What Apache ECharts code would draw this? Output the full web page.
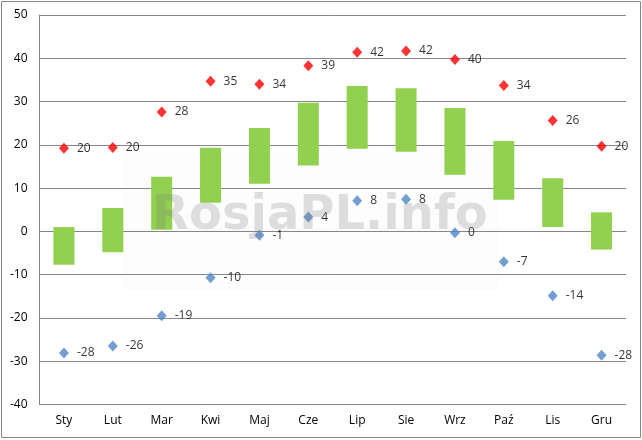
<!DOCTYPE html>
<html><head><meta charset="utf-8">
<script src="https://cdn.jsdelivr.net/npm/echarts@6/dist/echarts.min.js"></script>
<style>html,body{margin:0;padding:0;background:#fff}#c{width:642px;height:440px}</style>
</head><body><div id="c"></div>
<script>
const categories = ['Sty','Lut','Mar','Kwi','Maj','Cze','Lip','Sie','Wrz','Paź','Lis','Gru'];
const rangeLow  = [-7.7,-4.8,0.4,6.6,11.0,15.2,19.1,18.4,13.1,7.3,1.0,-4.2];
const rangeHigh = [1.0,5.4,12.6,19.3,23.9,29.7,33.6,33.1,28.5,20.9,12.3,4.4];
const maxValues = [19.2,19.4,27.6,34.7,34.0,38.3,41.4,41.7,39.7,33.7,25.6,19.7];
const maxLabels = [20,20,28,35,34,39,42,42,40,34,26,20];
const minValues = [-28.1,-26.5,-19.5,-10.7,-0.9,3.3,7.1,7.4,-0.3,-7.0,-14.9,-28.6];
const minLabels = [-28,-26,-19,-10,-1,4,8,8,0,-7,-14,-28];
const yTicks = [-40,-30,-20,-10,0,10,20,30,40,50];

const chart = echarts.init(document.getElementById('c'), null, {renderer:'canvas'});
const font = '"Open Sans", "Noto Sans", sans-serif';
chart.setOption({
  animation:false,
  backgroundColor:'#fff',
  grid:{left:39.5,right:16,top:15,bottom:35.5,containLabel:false},
  xAxis:{type:'category',data:categories,
    axisLine:{lineStyle:{color:'#868686'}},axisTick:{show:false},
    axisLabel:{color:'#000',fontFamily:font,fontSize:12,margin:10}},
  yAxis:{type:'value',min:yTicks[0],max:yTicks[yTicks.length-1],interval:10,
    axisLine:{show:true,lineStyle:{color:'#868686'}},axisTick:{show:false},
    splitLine:{lineStyle:{color:'#868686'}},
    axisLabel:{color:'#000',fontFamily:font,fontSize:12,margin:12}},
  graphic:[
    {type:'rect',shape:{x:1.5,y:1.5,width:639,height:436},style:{fill:'none',stroke:'#868686',lineWidth:1},z:0,silent:true},
    {type:'rect',shape:{x:122,y:145,width:378,height:145},style:{fill:'rgba(0,0,0,0.008)'},z:-1,silent:true},
    {type:'text',x:152,y:241,style:{text:'RosjaPL.info',font:'bold 48px "DejaVu Sans", sans-serif',fill:'rgba(120,120,120,0.24)',textVerticalAlign:'bottom',verticalAlign:'bottom'},z:100,silent:true}
  ],
  series:[
    {type:'custom',data:categories.map((c,i)=>[i,rangeLow[i],rangeHigh[i]]),
     encode:{x:0,y:[1,2]},
     renderItem:function(params,api){
       const lo=api.coord([api.value(0),api.value(1)]);
       const hi=api.coord([api.value(0),api.value(2)]);
       const w=api.size([1,0])[0]*0.43;
       return {type:'rect',shape:{x:lo[0]-w/2,y:hi[1],width:w,height:lo[1]-hi[1]},style:{fill:'#92d050'}};
     },z:2},
    {type:'scatter',data:maxValues,symbol:'diamond',symbolSize:[10,11],
     itemStyle:{color:'#ff0000'},z:3,
     label:{show:true,position:'right',distance:8,color:'#000',fontFamily:font,fontSize:12,
       formatter:p=>String(maxLabels[p.dataIndex])}},
    {type:'scatter',data:minValues,symbol:'diamond',symbolSize:[10,11],
     itemStyle:{color:'#4f86c6'},z:3,
     label:{show:true,position:'right',distance:8,color:'#000',fontFamily:font,fontSize:12,
       formatter:p=>String(minLabels[p.dataIndex])}}
  ]
});
</script></body></html>
